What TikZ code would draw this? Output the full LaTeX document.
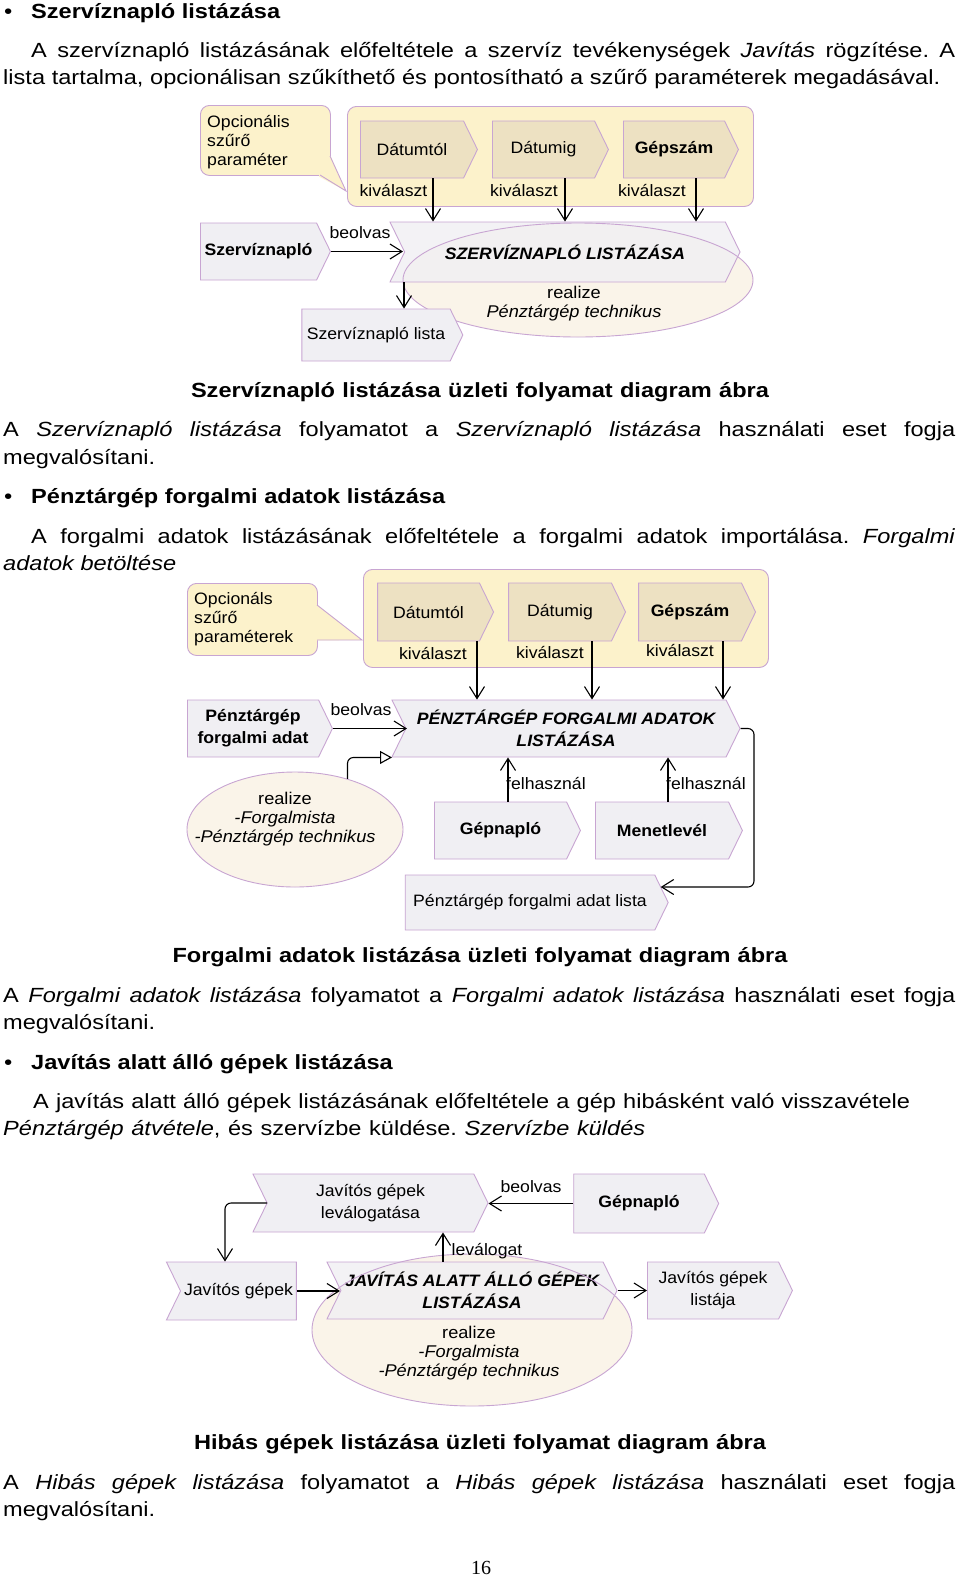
\documentclass[tikz,border=0pt]{standalone}
\usepackage{fontspec}
\setmainfont{Liberation Sans}[FakeStretch=1.15]
\newfontfamily\dg{Liberation Sans}[FakeStretch=1.07]
\newfontfamily\pgnum{Liberation Serif}
\usetikzlibrary{shapes.symbols,shapes.geometric,arrows.meta,calc}
\definecolor{bord}{HTML}{C8A5D2}
\definecolor{procfill}{HTML}{F0EFF3}
\definecolor{tanfill}{HTML}{EDE1C2}
\definecolor{yell}{HTML}{FCF2CB}
\definecolor{ellfill}{HTML}{FAF4E9}
\frenchspacing
\begin{document}
\begin{tikzpicture}[x=1pt,y=-1pt,
 dgf/.style={font=\dg\fontsize{16.5}{22}\selectfont},
 dgb/.style={font=\dg\fontsize{16.5}{22}\selectfont\bfseries},
 dgbi/.style={font=\dg\fontsize{16.5}{22}\selectfont\bfseries\itshape},
 shp/.style={signal, draw=bord, line width=0.9pt, inner sep=0pt, signal pointer angle=128, dgf, align=center},
 proc/.style={shp, fill=procfill, signal to=east, signal from=west},
 inp/.style={shp, fill=procfill, signal to=east},
 notch/.style={shp, fill=procfill, signal to=nowhere, signal from=west},
 tanb/.style={shp, fill=tanfill, signal to=east},
 ellf/.style={ellipse, draw=none, fill=ellfill, inner sep=0pt},
 ello/.style={ellipse, draw=bord, line width=0.9pt, inner sep=0pt},
 grp/.style={draw=bord, line width=0.9pt, fill=yell, rounded corners=9pt, inner sep=0pt},
 lbl/.style={dgf, inner sep=0pt},
 ltx/.style={font=\dg\fontsize{17}{19}\selectfont, inner sep=0pt, align=center},
 arr/.style={draw, line width=1.1pt, -{Straight Barb[length=12pt,width=15pt,line width=1.1pt]}},
 real/.style={draw, line width=1.1pt, rounded corners=6pt, -{Triangle[open,length=12pt,width=13pt,line width=1.1pt]}},
 txt/.style={inner sep=0pt, anchor=base west, font=\fontsize{20.5}{26}\selectfont},
 captxt/.style={inner sep=0pt, anchor=base, font=\fontsize{20.5}{26}\selectfont\bfseries},
]
\useasboundingbox (0,0) rectangle (960,1577);
\fill[white] (0,0) rectangle (960,1577);

% ---------------- text block 1
\node[txt] (b1) at (4,18) {•};
\node[txt] (h1) at (31,18) {\bfseries Szervíznapló listázása};
\node[txt] (p1) at (31,57) {\makebox[924pt][s]{A szervíznapló listázásának előfeltétele a szervíz tevékenységek \textit{Javítás} rögzítése. A}};
\node[txt] (p2) at (3,84) {\makebox[937pt][s]{lista tartalma, opcionálisan szűkíthető és pontosítható a szűrő paraméterek megadásával.}};

% ---------------- diagram 1
\node[grp, anchor=north west, minimum width=406pt, minimum height=100pt] (grp1) at (347,106) {};
\node[grp, anchor=north west, minimum width=130pt, minimum height=70pt] (call1) at (200,105) {};
\fill[yell] (319,156) -- (330.6,156) -- (346,191) -- (319,176.6) -- cycle;
\draw[bord, line width=0.9pt] (330,156) -- (346,191) -- (320,175);
\node[lbl, align=left, anchor=west, font=\dg\fontsize{16.5}{19}\selectfont] (call1t) at (207,142) {Opcionális\\szűrő\\paraméter};

\node[tanb, minimum width=117pt, minimum height=57pt] (d1) at (412,149.5) {Dátumtól};
\node[tanb, minimum width=116pt, minimum height=57pt] (d2) at (543.5,149.5) {Dátumig};
\node[tanb, dgb, minimum width=115pt, minimum height=57pt] (d3) at (674,149.5) {Gépszám};
\node[lbl] (k11) at (393.5,190.5) {kiválaszt};
\node[lbl] (k12) at (524,190.5) {kiválaszt};
\node[lbl] (k13) at (652,190.5) {kiválaszt};

\node[ellf, minimum width=350pt, minimum height=114pt] (el1) at (578,280) {};
\node[proc, dgbi, minimum width=350pt, minimum height=60pt, fill opacity=0.8, text opacity=1] (main1) at (565,252) {SZERVÍZNAPLÓ LISTÁZÁSA};
\node[ello, minimum width=350pt, minimum height=114pt] (el1o) at (578,280) {};
\node[ltx] (el1t) at (574,304) {realize\\\textit{Pénztárgép technikus}};

\node[inp, dgb, minimum width=130pt, minimum height=57pt] (in1) at (258.5,251.5) {Szervíznapló};
\node[inp, minimum width=161pt, minimum height=52pt] (out1) at (376,335) {Szervíznapló lista};
\node[lbl] (bv1) at (360,233) {beolvas};

\coordinate (a11) at ([xshift=21pt]d1.south);
\coordinate (a12) at ([xshift=21.5pt]d2.south);
\coordinate (a13) at ([xshift=22pt]d3.south);
\draw[arr] (a11) -- (a11 |- main1.north);
\draw[arr] (a12) -- (a12 |- main1.north);
\draw[arr] (a13) -- (a13 |- main1.north);
\coordinate (m1n) at ([xshift=-162pt]main1.center);
\draw[arr] (in1.east) -- (in1.east -| m1n);
\coordinate (m1o) at ([xshift=-161pt]main1.south);
\draw[arr] (m1o) -- (m1o |- out1.north);

\node[captxt] (c1) at (480,397) {\makebox[578pt][s]{Szervíznapló listázása üzleti folyamat diagram ábra}};

% ---------------- text block 2
\node[txt] (p3) at (3,436) {\makebox[952pt][s]{A \textit{Szervíznapló listázása} folyamatot a \textit{Szervíznapló listázása} használati eset fogja}};
\node[txt] (p4) at (3,464) {megvalósítani.};
\node[txt] (b2) at (4,503) {•};
\node[txt] (h2) at (31,503) {\bfseries Pénztárgép forgalmi adatok listázása};
\node[txt] (p5) at (31,543) {\makebox[924pt][s]{A forgalmi adatok listázásának előfeltétele a forgalmi adatok importálása. \textit{Forgalmi}}};
\node[txt] (p6) at (3,570) {\textit{adatok betöltése}};

% ---------------- diagram 2
\node[grp, anchor=north west, minimum width=405pt, minimum height=98pt] (grp2) at (363,569) {};
\node[grp, anchor=north west, minimum width=130pt, minimum height=72pt] (call2) at (187,583) {};
\fill[yell] (305,605) -- (317.6,605) -- (362,640) -- (305,640.6) -- cycle;
\draw[bord, line width=0.9pt] (317,605) -- (362,640) -- (317,640);
\node[lbl, align=left, anchor=west, font=\dg\fontsize{16.5}{19}\selectfont] (call2t) at (194,619) {Opcionáls\\szűrő\\paraméterek};

\node[tanb, minimum width=116pt, minimum height=58pt] (e1) at (428.5,612) {Dátumtól};
\node[tanb, minimum width=117pt, minimum height=58pt] (e2) at (560,612) {Dátumig};
\node[tanb, dgb, minimum width=117pt, minimum height=58pt] (e3) at (690,612) {Gépszám};
\node[lbl] (k21) at (433,653) {kiválaszt};
\node[lbl] (k22) at (550,652) {kiválaszt};
\node[lbl] (k23) at (680,650) {kiválaszt};

\node[proc, dgbi, minimum width=348pt, minimum height=57pt] (main2) at (566,728.5) {PÉNZTÁRGÉP FORGALMI ADATOK\\LISTÁZÁSA};
\node[inp, dgb, minimum width=145pt, minimum height=57pt] (in2) at (253,728.5) {Pénztárgép\\forgalmi adat};
\node[lbl] (bv2) at (361,710) {beolvas};

\coordinate (a21) at ([xshift=48.5pt]e1.south);
\coordinate (a22) at ([xshift=32pt]e2.south);
\coordinate (a23) at ([xshift=33pt]e3.south);
\draw[arr] (a21) -- (a21 |- main2.north);
\draw[arr] (a22) -- (a22 |- main2.north);
\draw[arr] (a23) -- (a23 |- main2.north);
\coordinate (m2n) at ([xshift=-159pt]main2.center);
\draw[arr] (in2.east) -- (in2.east -| m2n);

\node[ellf, draw=bord, line width=0.9pt, minimum width=216pt, minimum height=115pt] (el2) at (295,829.5) {};
\node[ltx] (el2t) at (285,819.5) {realize\\\textit{-Forgalmista}\\\textit{-Pénztárgép technikus}};
\coordinate (m2sw) at ([xshift=-174pt]main2.south);
\draw[real] (el2.44) |- (m2sw);

\node[inp, dgb, minimum width=146pt, minimum height=57pt] (g1) at (500.5,830.5) {Gépnapló};
\node[inp, dgb, minimum width=147pt, minimum height=57pt] (g2) at (662,830.5) {Menetlevél};
\coordinate (g1n) at ([xshift=7.5pt]g1.north);
\coordinate (g2n) at ([xshift=6pt]g2.north);
\draw[arr] (g1n) -- (g1n |- main2.south);
\draw[arr] (g2n) -- (g2n |- main2.south);
\node[lbl, anchor=west] (f1) at (506,783) {felhasznál};
\node[lbl, anchor=west] (f2) at (666,783) {felhasznál};

\node[inp, minimum width=263pt, minimum height=55pt] (out2) at (530,902.5) {Pénztárgép forgalmi adat lista};
\coordinate (k2) at (754,800);
\coordinate (o2r) at ([xshift=-8pt,yshift=15.5pt]out2.east);
\draw[arr, rounded corners=6pt] (main2.east) -- (main2.east -| k2) |- (o2r);

\node[captxt] (c2) at (480,962) {\makebox[615pt][s]{Forgalmi adatok listázása üzleti folyamat diagram ábra}};

% ---------------- text block 3
\node[txt] (p7) at (3,1002) {\makebox[952pt][s]{A \textit{Forgalmi adatok listázása} folyamatot a \textit{Forgalmi adatok listázása} használati eset fogja}};
\node[txt] (p8) at (3,1029) {megvalósítani.};
\node[txt] (b3) at (4,1069) {•};
\node[txt] (h3) at (31,1069) {\bfseries Javítás alatt álló gépek listázása};
\node[txt] (p9) at (33,1108) {\makebox[877pt][s]{A javítás alatt álló gépek listázásának előfeltétele a gép hibásként való visszavétele}};
\node[txt] (p10) at (3,1135) {\makebox[642pt][s]{\textit{Pénztárgép átvétele}, és szervízbe küldése. \textit{Szervízbe küldés}}};

% ---------------- diagram 3
\node[proc, minimum width=235pt, minimum height=58pt] (lv) at (370.5,1203) {Javítós gépek\\leválogatása};
\node[inp, dgb, minimum width=145pt, minimum height=59pt] (gn) at (639,1203.5) {Gépnapló};
\draw[arr] (gn.west) -- (gn.west -| lv.east);
\node[lbl] (bv3) at (531,1187) {beolvas};

\node[notch, minimum width=130pt, minimum height=58pt] (jg) at (238.5,1291) {Javítós gépek};
\coordinate (lvn) at ([xshift=-103.5pt]lv.center);
\coordinate (jgt) at ([xshift=-13.5pt]jg.north);
\draw[arr, rounded corners=6pt] (lvn) -| (jgt);

\node[ellf, minimum width=320pt, minimum height=152pt] (el3) at (472,1330) {};
\node[proc, dgbi, minimum width=290pt, minimum height=57pt, fill opacity=0.8, text opacity=1] (main3) at (472,1290.5) {JAVÍTÁS ALATT ÁLLÓ GÉPEK\\LISTÁZÁSA};
\node[ello, minimum width=320pt, minimum height=152pt] (el3o) at (472,1330) {};
\node[ltx] (el3t) at (469,1353) {realize\\\textit{-Forgalmista}\\\textit{-Pénztárgép technikus}};

\coordinate (m3n) at ([xshift=-132pt]main3.center);
\draw[arr] (jg.east) -- (jg.east -| m3n);
\coordinate (m3t) at ([xshift=-29pt]main3.north);
\draw[arr] (m3t) -- (m3t |- lv.south);
\node[lbl] (lvg) at (487,1251) {leválogat};

\node[inp, minimum width=145pt, minimum height=57pt] (jl) at (713,1290.5) {Javítós gépek\\listája};
\draw[arr] (main3.east) -- (jl.west);

\node[captxt] (c3) at (480,1449) {\makebox[572pt][s]{Hibás gépek listázása üzleti folyamat diagram ábra}};

% ---------------- text block 4
\node[txt] (p11) at (3,1489) {\makebox[952pt][s]{A \textit{Hibás gépek listázása} folyamatot a \textit{Hibás gépek listázása} használati eset fogja}};
\node[txt] (p12) at (3,1516) {megvalósítani.};
\node[inner sep=0pt, anchor=base, font=\pgnum\fontsize{20}{24}\selectfont] (pg) at (481,1574) {16};
\end{tikzpicture}
\end{document}
